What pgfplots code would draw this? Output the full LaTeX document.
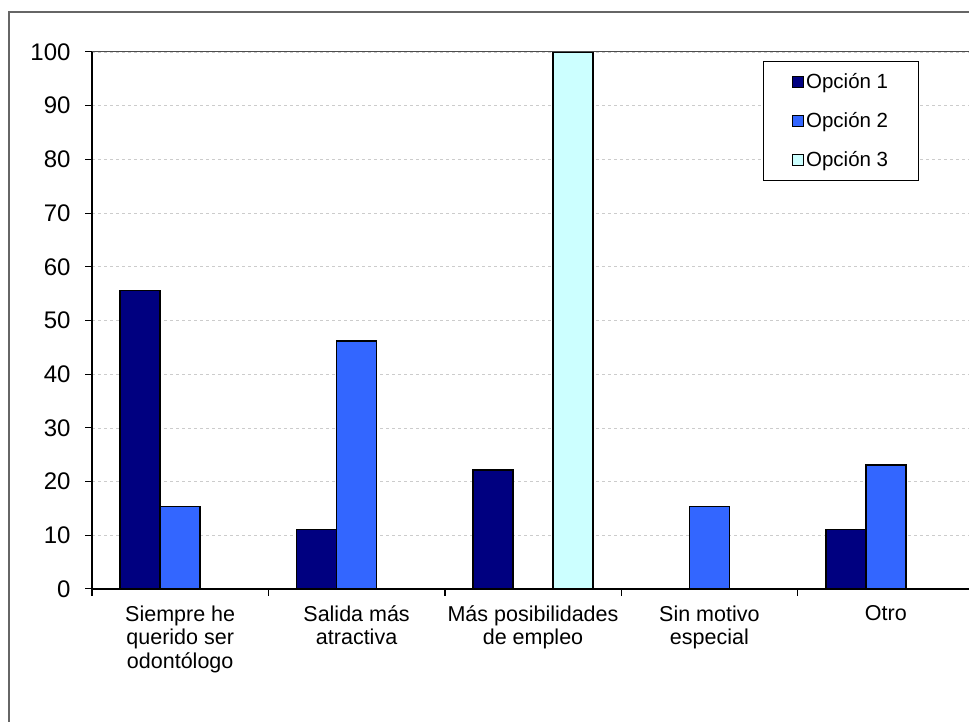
\documentclass[border=0pt]{standalone}
\usepackage{pgfplots}
\pgfplotsset{compat=1.18}
\usepackage{fontspec}
\setmainfont{Liberation Sans}
\definecolor{op1}{HTML}{000080}
\definecolor{op2}{HTML}{3366FF}
\definecolor{op3}{HTML}{CCFFFF}
\begin{document}
\begin{tikzpicture}[x=1pt,y=1pt]
\useasboundingbox (0,0) rectangle (969,722);
\draw[gray!80!black, line width=1.5pt] (9,-20) -- (9,710) -- (990,710);
\begin{axis}[
  at={(92pt,133pt)}, anchor=south west,
  scale only axis, width=882pt, height=537pt,
  xmin=-0.5, xmax=4.5, ymin=0, ymax=100,
  clip=false,
  ybar=0pt, bar width=40pt,
  axis lines*=left,
  axis line style={-, line width=1.4pt, black},
  tick align=outside,
  major tick length=7pt, minor tick length=7pt,
  ytick={0,10,...,100},
  xtick={0,1,2,3,4},
  minor xtick={-0.5,0.5,1.5,2.5,3.5,4.5},
  major x tick style={draw=none},
  minor x tick style={line width=1.4pt, black},
  y tick style={line width=1pt, black},
  xticklabels={{Siempre he\\querido ser\\odontólogo},{Salida más\\atractiva},{Más posibilidades\\de empleo},{Sin motivo\\especial},{Otro}},
  xticklabel style={align=center, font=\fontsize{21.5}{23.5}\selectfont, yshift=-6pt},
  yticklabel style={font=\fontsize{24}{28}\selectfont, xshift=-11pt},
  /pgf/number format/assume math mode=true,
  ymajorgrids,
  major grid style={gray!40, dashed, line width=0.6pt},
  legend style={at={(0.761,0.983)}, anchor=north west, draw=black, line width=0.8pt,
    font=\fontsize{20.5}{24}\selectfont, row sep=18.5pt, inner xsep=28pt, inner ysep=10pt,
    legend cell align=left},
  legend image code/.code={\draw[#1, draw=black, line width=1.5pt] (0pt,-5.5pt) rectangle (11pt,5.5pt);},
]
\addplot[fill=op1, draw=black, line width=1.5pt] coordinates {(0,55.6) (1,11.1) (2,22.2) (4,11.1)};
\addplot[fill=op2, draw=black, line width=1.5pt] coordinates {(0,15.4) (1,46.2) (3,15.4) (4,23.1)};
\addplot[fill=op3, draw=black, line width=1.5pt] coordinates {(2,100)};
\legend{Opción 1, Opción 2, Opción 3}
\draw[gray!60!black, line width=1pt] (rel axis cs:0,1) -- (rel axis cs:1,1);
\end{axis}
\end{tikzpicture}
\end{document}
